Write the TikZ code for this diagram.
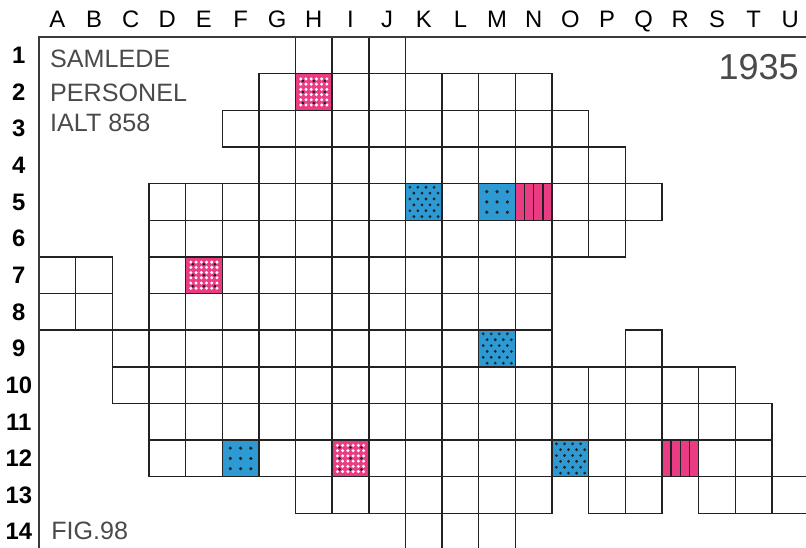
\documentclass[tikz,border=0pt]{standalone}
\usepackage{fontspec}
\setmainfont{Liberation Sans}
\usetikzlibrary{positioning}
\definecolor{MapPink}{HTML}{EA3C82}
\definecolor{MapBlue}{HTML}{2D9AD3}
\definecolor{Charcoal}{HTML}{222222}
\definecolor{FrameGray}{HTML}{3A3A3A}
\definecolor{TextGray}{HTML}{4A4A4A}

\tikzset{
    cell/.style={draw=Charcoal, line width=1.1pt},
    frame/.style={draw=FrameGray, line width=1.8pt},
    collabel/.style={anchor=base, inner sep=0pt, font=\fontsize{18.5}{18.5}\selectfont},
    rowlabel/.style={inner sep=0pt, font=\fontsize{18.5}{18.5}\selectfont\bfseries},
    infotext/.style={anchor=base west, inner sep=0pt, text=TextGray, font=\fontsize{19.5}{19.5}\selectfont},
    yeartext/.style={anchor=base east, inner sep=0pt, text=TextGray, font=\fontsize{28}{28}\selectfont}
}

\begin{document}
\begin{tikzpicture}[>=stealth]
    % Page window
    \useasboundingbox (-1.064,1.01) rectangle (20.93,-13.94);
    \clip (-1.064,1.01) rectangle (20.93,-13.94);

    % Pink dotted cells
    \foreach \c/\r in {8/2, 5/7, 9/12} {
        \fill[MapPink] (\c-1,1-\r) rectangle (\c,-\r);
        \foreach \i in {1,...,6}
            \foreach \j in {1,...,6}
                \fill[white] (\c-1+\i/7,1-\r-\j/7) circle (0.045);
        \foreach \i in {0.2,0.5,0.8}
            \foreach \j in {0.2,0.5,0.8}
                \fill[Charcoal] (\c-1+\i,1-\r-\j) circle (0.04);
    }

    % Blue cells, dense dots
    \foreach \c/\r in {11/5, 13/9, 15/12} {
        \fill[MapBlue] (\c-1,1-\r) rectangle (\c,-\r);
        \foreach \j in {0,...,5} {
            \pgfmathsetmacro\offs{mod(\j,2)*0.11}
            \foreach \i in {0,...,3}
                \fill[Charcoal] (\c-0.88+\offs+\i*0.22,0.9-\r-\j*0.16) circle (0.042);
        }
    }

    % Blue cells, sparse dots
    \foreach \c/\r in {13/5, 6/12} {
        \fill[MapBlue] (\c-1,1-\r) rectangle (\c,-\r);
        \foreach \i in {0.22,0.5,0.78}
            \foreach \j in {0.22,0.5,0.78}
                \fill[Charcoal] (\c-1+\i,1-\r-\j) circle (0.048);
    }

    % Pink striped cells
    \foreach \c/\r in {14/5, 18/12} {
        \fill[MapPink] (\c-1,1-\r) rectangle (\c,-\r);
        \foreach \i in {0.25,0.5,0.75}
            \draw[Charcoal, line width=1.1pt] (\c-1+\i,1-\r) -- (\c-1+\i,-\r);
    }

    % Grid of cells, row by row
    \foreach \r/\cols in {1/{8,9,10}, 2/{7,...,14}, 3/{6,...,15}, 4/{7,...,16},
            5/{4,...,17}, 6/{4,...,16}, 7/{1,2,4,5,...,14}, 8/{1,2,4,5,...,14},
            9/{3,...,14,17}, 10/{3,...,19}, 11/{4,...,20}, 12/{4,...,20},
            13/{8,...,14,16,17,19,20,21}, 14/{11,12,13}}
        \foreach \c in \cols
            \draw[cell] (\c-1,1-\r) rectangle (\c,-\r);

    % Outer frame, top and left only
    \draw[frame] (0,-14.5) -- (0,0) -- (21.5,0);

    % Column letters and row numbers
    \foreach \c [count=\k] in {A,B,...,U}
        \node[collabel] (col-\c) at (\k-0.5,0.25) {\c};
    \foreach \r in {1,...,14}
        \node[rowlabel] (row-\r) at (-0.55,0.5-\r) {\r};

    % Texts
    \node[infotext] (total-a) at (0.3,-0.82) {SAMLEDE};
    \node[infotext] (total-b) at (0.3,-1.75) {PERSONEL};
    \node[infotext] (total-c) at (0.3,-2.57) {IALT 858};
    \node[yeartext] (year) at (20.74,-1.17) {1935};
    \node[infotext] (figno) at (0.33,-13.72) {FIG.98};
\end{tikzpicture}
\end{document}
